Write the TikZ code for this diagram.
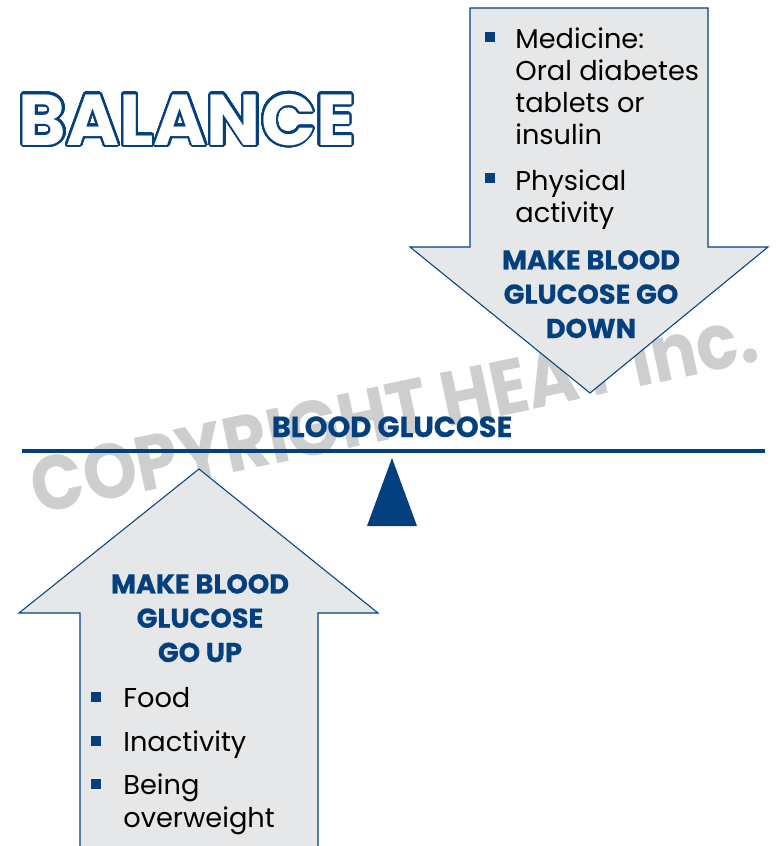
\documentclass[tikz,border=0pt]{standalone}
\usepackage{fontspec}
\setmainfont{Poppins}
\newfontface\heavyface{Poppins Bold}[FakeBold=0.6]
\newfontface\markface{Poppins Bold}[FakeStretch=0.89]
\usepackage{contour}
\contourlength{1.2pt}
\contournumber{48}
\usetikzlibrary{positioning}
\definecolor{navy}{HTML}{05407E}
\definecolor{arrowgray}{HTML}{E6E7E8}
\definecolor{wmark}{HTML}{CDCECF}

\begin{document}
\begin{tikzpicture}[x=0.02cm, y=-0.02cm,
  arrowbox/.style={draw=navy, line width=0.6pt, fill=arrowgray},
  head/.style={font=\heavyface\fontsize{15.5}{19.5}\selectfont, text=navy, align=center, inner sep=0pt, anchor=base},
  item/.style={font=\fontsize{15.5}{18.1}\selectfont, align=left, anchor=base west, inner sep=0pt},
  bul/.style={fill=navy, minimum size=5.7pt, inner sep=0pt}]
  \useasboundingbox (0,0) rectangle (775,846);

  % Watermark
  \node[font=\markface\fontsize{44}{44}\selectfont, text=wmark, rotate=12] (wm) at (394,411) {COPYRIGHT HEAT Inc.};

  % Title
  \node[font=\bfseries\fontsize{41}{41}\selectfont, anchor=base, inner sep=0pt] (title) at (187,145) {\contour{navy}{\textcolor{white}{BALANCE}}};

  % Down arrow (lowers glucose)
  \draw[arrowbox] (470,8) -- (708,8) -- (708,247) -- (768,247) -- (590,393) -- (410,247) -- (470,247) -- cycle;
  \node[bul] (b1) at (490,37) {};
  \node[item] (med) at (515,144) {Medicine:\\Oral diabetes\\tablets or\\insulin};
  \node[bul] (b2) at (490,178) {};
  \node[item] (act) at (515,222) {Physical\\activity};
  \node[head] (down) at (591,338) {MAKE BLOOD\\GLUCOSE GO\\DOWN};

  % Up arrow (raises glucose)
  \fill[arrowgray] (80,846) -- (80,613) -- (19,613) -- (199,469) -- (378,613) -- (318,613) -- (318,846) -- cycle;
  \draw[navy, line width=0.6pt] (80,846) -- (80,613) -- (19,613) -- (199,469) -- (378,613) -- (318,613) -- (318,846);
  \node[head] (up) at (200,662) {MAKE BLOOD\\GLUCOSE\\GO UP};
  \node[bul] (b3) at (96,697) {};
  \node[item] (food) at (123,707) {Food};
  \node[bul] (b4) at (96,741) {};
  \node[item] (inact) at (123,751) {Inactivity};
  \node[bul] (b5) at (96,784) {};
  \node[item, font=\fontsize{15.5}{18.7}\selectfont] (weight) at (123,827) {Being\\overweight};

  % Beam and fulcrum
  \draw[navy, line width=2.3pt] (22,451) -- (765,451);
  \fill[navy] (392,458) -- (417,526) -- (367,526) -- cycle;
  \node[head, font=\heavyface\fontsize{16.5}{19.5}\selectfont] (bg) at (392,437) {BLOOD GLUCOSE};
\end{tikzpicture}
\end{document}
